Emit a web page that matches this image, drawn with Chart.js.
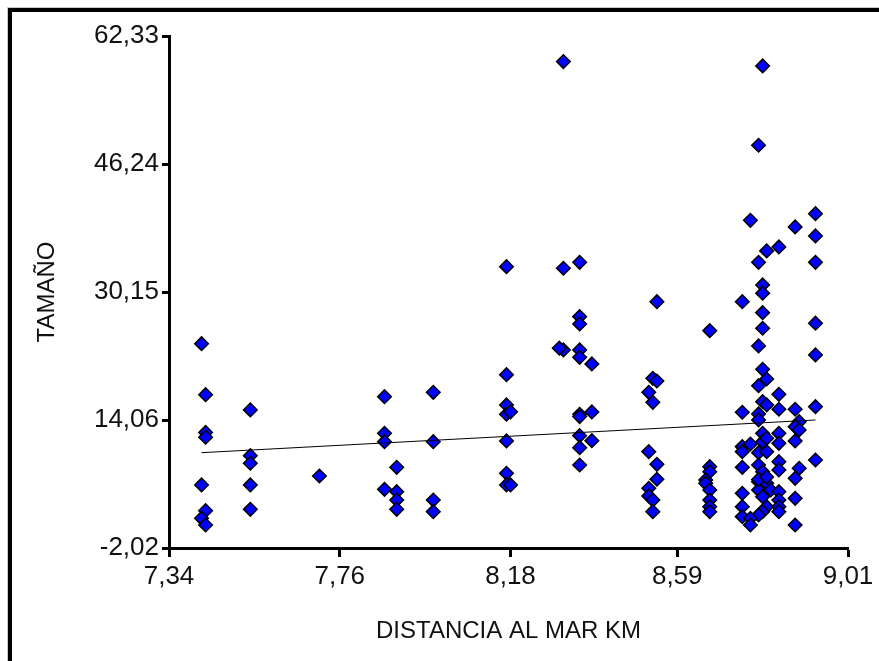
<!DOCTYPE html>
<html>
<head>
<meta charset="utf-8">
<script src="https://cdn.jsdelivr.net/npm/chart.js@4/dist/chart.umd.min.js"></script>
<style>
  html, body { margin: 0; padding: 0; background: #fff; }
  #frame {
    position: absolute; left: 8px; top: 8px; width: 900px; height: 700px;
    border-top: 4px solid #000; border-left: 4px solid #000;
    box-shadow: -1px -1px 0 #c8c8c8;
  }
  #wrap { position: absolute; left: 0; top: 0; width: 879px; height: 661px; }
</style>
</head>
<body>
<div id="frame"></div>
<div id="wrap"><canvas id="scatterChart" width="879" height="661"></canvas></div>
<script>
// distancia al mar (km) y tamaño de cada punto
var distancia = [
  7.42, 7.43, 7.43, 7.43, 7.42, 7.43, 7.42, 7.43,
  7.54, 7.54, 7.54, 7.54, 7.54,
  7.71,
  7.87, 7.87, 7.87, 7.90, 7.87, 7.90, 7.90, 7.90,
  7.99, 7.99, 7.99, 7.99,
  8.17, 8.17, 8.17, 8.17, 8.18, 8.17, 8.17, 8.17, 8.18,
  8.31, 8.31, 8.35, 8.35, 8.35, 8.31, 8.30, 8.35, 8.35, 8.38, 8.35, 8.35, 8.38, 8.35, 8.35, 8.38, 8.35,
  8.54, 8.53, 8.54, 8.52, 8.53, 8.52, 8.54, 8.54, 8.52, 8.52, 8.53, 8.53,
  8.67, 8.67, 8.67, 8.66, 8.66, 8.67, 8.67, 8.67, 8.67,
  8.80, 8.79, 8.77, 8.93, 8.88, 8.93, 8.84, 8.81, 8.79, 8.93,
  8.80, 8.80, 8.75, 8.80, 8.80, 8.93, 8.93, 8.79, 8.80, 8.81, 8.79, 8.84, 8.80, 8.81,
  8.75, 8.79, 8.84, 8.88, 8.93, 8.79, 8.89, 8.88, 8.89, 8.80, 8.75, 8.77, 8.80, 8.81,
  8.84, 8.84, 8.88, 8.75, 8.79, 8.81, 8.84, 8.93, 8.75, 8.79, 8.84, 8.89, 8.88, 8.80,
  8.79, 8.81, 8.79, 8.82, 8.84, 8.80, 8.75, 8.88, 8.84, 8.75, 8.81, 8.84, 8.84, 8.80,
  8.79, 8.75, 8.77, 8.77, 8.88, 8.79, 8.81
]
var tamano = [
  23.66, 17.25, 12.5, 11.9, 5.9, 2.67, 1.71, 0.87,
  15.33, 9.58, 8.63, 5.9, 2.84,
  7.03,
  17.0, 12.4, 11.34, 8.12, 5.36, 5.06, 4.01, 2.84,
  17.55, 11.34, 4.01, 2.55,
  33.34, 19.76, 15.96, 14.79, 15.1, 11.43, 7.37, 5.9, 5.9,
  59.11, 33.14, 33.89, 27.06, 26.14, 22.87, 23.1, 22.87, 21.95, 21.11, 14.79, 14.5, 15.08, 12.1, 10.59, 11.47, 8.41,
  28.94, 19.31, 18.97, 17.55, 16.29, 10.09, 8.5, 6.62, 5.49, 4.52, 4.01, 2.55,
  25.3, 8.2, 7.57, 6.53, 6.11, 5.27, 4.01, 3.17, 2.55,
  58.57, 48.6, 39.17, 40.0, 38.33, 37.2, 35.82, 35.32, 33.89, 33.89,
  31.04, 30.0, 28.94, 27.56, 25.6, 26.23, 22.24, 23.37, 20.44, 19.22, 18.38, 17.3, 16.37, 15.96,
  15.04, 14.83, 15.42, 15.42, 15.74, 14.07, 13.86, 13.23, 12.81, 12.4, 10.72, 11.05, 11.34, 11.77,
  12.4, 11.14, 11.43, 10.09, 9.96, 10.09, 8.83, 9.04, 8.12, 8.41, 7.79, 8.0, 6.74, 7.57,
  6.32, 6.11, 5.27, 5.27, 5.06, 4.43, 4.85, 4.22, 4.01, 3.17, 3.17, 3.17, 2.55, 2.55,
  2.13, 1.92, 1.71, 0.87, 0.87, 6.6, 6.9
]
// recta de regresión (extremos)
var rectaX = [7.42, 8.93]
var rectaY = [9.96, 14.07]

var xTicks = [7.34, 7.76, 8.18, 8.59, 9.01]
var yTicks = [-2.02, 14.06, 30.15, 46.24, 62.33]

var puntos = distancia.map(function (d, i) { return { x: d, y: tamano[i] } })
var recta = rectaX.map(function (d, i) { return { x: d, y: rectaY[i] } })

function coma(v) { return v.toFixed(2).replace('.', ',') }

var fuente = "'Liberation Sans', Arial, sans-serif"

new Chart(document.getElementById('scatterChart'), {
  type: 'scatter',
  data: {
    datasets: [{
      label: 'Regresión',
      data: recta,
      showLine: true,
      borderColor: '#000',
      borderWidth: 1,
      pointRadius: 0,
      fill: false
    }, {
      label: 'TAMAÑO',
      data: puntos,
      pointStyle: 'rectRot',
      pointRadius: 6.8,
      backgroundColor: '#0000ff',
      borderColor: '#000',
      borderWidth: 1.5
    }]
  },
  options: {
    responsive: false,
    animation: false,
    layout: { padding: { top: 36, right: 31, left: 0, bottom: 0 } },
    plugins: { legend: { display: false }, tooltip: { enabled: false } },
    scales: {
      x: {
        type: 'linear',
        min: 7.34, max: 9.01,
        afterBuildTicks: function (s) { s.ticks = xTicks.map(function (v) { return { value: v } }) },
        afterFit: function (s) { s.height = 113 },
        border: { color: '#000', width: 3 },
        grid: { drawOnChartArea: false, drawTicks: true, tickLength: 9, tickWidth: 3, tickColor: '#000' },
        ticks: {
          color: '#111', padding: 4,
          font: { family: fuente, size: 26 },
          callback: function (v) { return coma(v) }
        },
        title: {
          display: true, text: 'DISTANCIA AL MAR KM', color: '#111',
          font: { family: fuente, size: 24 },
          padding: { top: 4, bottom: 15 }
        }
      },
      y: {
        type: 'linear',
        min: -2.02, max: 62.33,
        afterBuildTicks: function (s) { s.ticks = yTicks.map(function (v) { return { value: v } }) },
        afterFit: function (s) { s.width = 169 },
        border: { color: '#000', width: 3 },
        grid: { drawOnChartArea: false, drawTicks: true, tickLength: 7, tickWidth: 3, tickColor: '#000' },
        ticks: {
          color: '#111', padding: 3,
          font: { family: fuente, size: 26 },
          callback: function (v) { return coma(v) }
        },
        title: {
          display: true, text: 'TAMAÑO', color: '#111',
          font: { family: fuente, size: 24 },
          padding: { top: 33, bottom: 0 }
        }
      }
    }
  }
})
</script>
</body>
</html>
